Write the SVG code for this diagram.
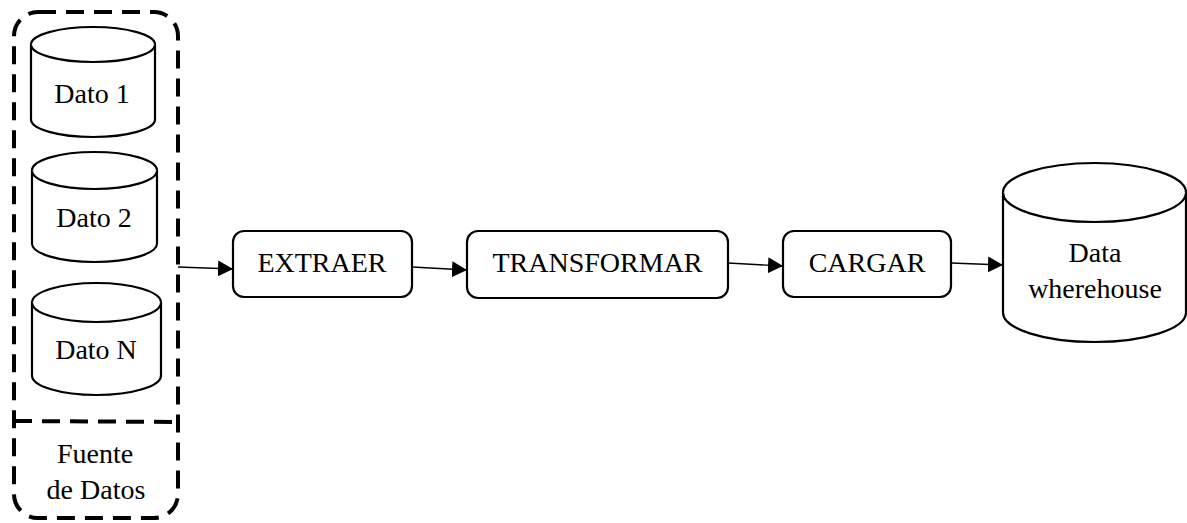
<svg xmlns="http://www.w3.org/2000/svg" width="1187" height="523" viewBox="0 0 1187 523">
<style>
text{font-family:"Liberation Serif","Times New Roman",serif;font-size:28px;fill:#000;text-anchor:middle}
.shape{fill:#fff;stroke:#000;stroke-width:2.2}
.dash{fill:none;stroke:#000;stroke-width:4;stroke-dasharray:18 10}
.conn{stroke:#000;stroke-width:1.4;fill:none;marker-end:url(#ah)}
</style>
<defs>
<marker id="ah" markerUnits="userSpaceOnUse" markerWidth="16" markerHeight="18" refX="15" refY="8" orient="auto">
<path d="M0,0 L15,8 L0,16 Z" fill="#000"/>
</marker>
</defs>
<rect width="1187" height="523" fill="#fff"/>
<g id="fuente">
<rect class="dash" x="14" y="12" width="164" height="506" rx="24"/>
<line class="dash" x1="14" y1="421" x2="178" y2="422"/>
<text x="95" y="463">Fuente</text>
<text x="96" y="499">de Datos</text>
</g>
<g id="dato1">
<path class="shape" d="M31,44.5 V119.5 A62,17.5 0 0 0 155,119.5 V44.5 A62,17.5 0 0 0 31,44.5 Z"/>
<path class="shape" fill="none" d="M31,44.5 A62,17.5 0 0 0 155,44.5"/>
<text x="92" y="103">Dato 1</text>
</g>
<g id="dato2">
<path class="shape" d="M32,170.5 V243.5 A62.5,18.5 0 0 0 157,243.5 V170.5 A62.5,18.5 0 0 0 32,170.5 Z"/>
<path class="shape" fill="none" d="M32,170.5 A62.5,18.5 0 0 0 157,170.5"/>
<text x="94" y="227">Dato 2</text>
</g>
<g id="datoN">
<path class="shape" d="M32,302.5 V375.5 A64.5,19.5 0 0 0 161,375.5 V302.5 A64.5,19.5 0 0 0 32,302.5 Z"/>
<path class="shape" fill="none" d="M32,302.5 A64.5,19.5 0 0 0 161,302.5"/>
<text x="96" y="359">Dato N</text>
</g>
<g id="extraer">
<rect class="shape" x="233" y="231" width="179" height="66" rx="11"/>
<text x="322" y="272">EXTRAER</text>
</g>
<g id="transformar">
<rect class="shape" x="467" y="231" width="261" height="67" rx="11"/>
<text x="597.5" y="272">TRANSFORMAR</text>
</g>
<g id="cargar">
<rect class="shape" x="783" y="231" width="168" height="66" rx="11"/>
<text x="867" y="272">CARGAR</text>
</g>
<g id="warehouse">
<path class="shape" d="M1003,192.5 V312.5 A91.5,29.5 0 0 0 1186,312.5 V192.5 A91.5,29.5 0 0 0 1003,192.5 Z"/>
<path class="shape" fill="none" d="M1003,192.5 A91.5,29.5 0 0 0 1186,192.5"/>
<text x="1095" y="262">Data</text>
<text x="1095" y="298">wherehouse</text>
</g>
<g id="connectors">
<line class="conn" x1="178" y1="267" x2="233" y2="269"/>
<line class="conn" x1="412" y1="267" x2="467" y2="270"/>
<line class="conn" x1="728" y1="263" x2="783" y2="266"/>
<line class="conn" x1="951" y1="263" x2="1003" y2="265"/>
</g>
</svg>
